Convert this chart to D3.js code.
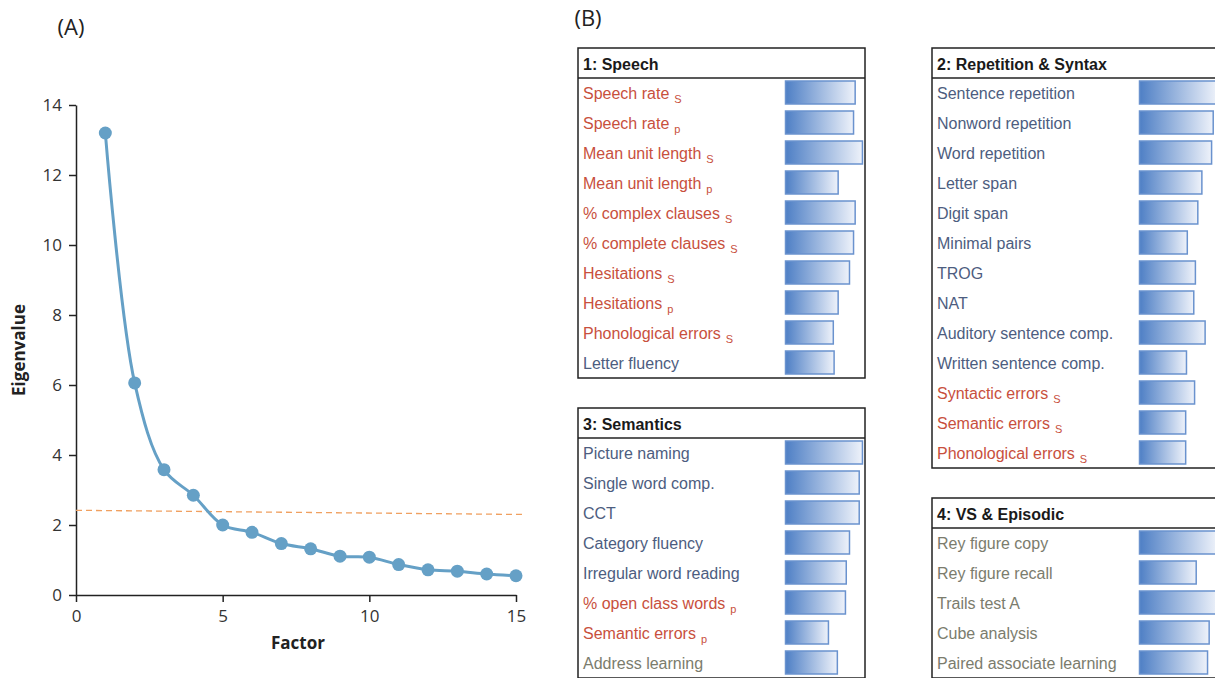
<!DOCTYPE html>
<html>
<head>
<meta charset="utf-8">
<script src="https://cdn.jsdelivr.net/npm/d3@7"></script>
<style>
  body { margin: 0; background: #fff; }
  svg { display: block; }
</style>
</head>
<body>
<div id="chart"></div>
<script>
// ---- panel A: scree plot ----
const factors = [1,2,3,4,5,6,7,8,9,10,11,12,13,14,15];
const eigenvalues = [13.2,6.06,3.58,2.85,2.0,1.79,1.47,1.32,1.11,1.08,0.87,0.72,0.68,0.6,0.55];
const cutoffX = [0, 15.3];
const cutoffY = [2.42, 2.3];
const yTicks = [0,2,4,6,8,10,12,14];
const xTicks = [0,5,10,15];

// ---- panel B: factor loadings ----
const f1Labels = ["Speech rate","Speech rate","Mean unit length","Mean unit length","% complex clauses","% complete clauses","Hesitations","Hesitations","Phonological errors","Letter fluency"];
const f1Subs = ["S","p","S","p","S","S","S","p","S",""];
const f1Kinds = ["speech","speech","speech","speech","speech","speech","speech","speech","speech","test"];
const f1Loadings = [0.86,0.84,0.95,0.65,0.86,0.84,0.79,0.65,0.59,0.60];

const f2Labels = ["Sentence repetition","Nonword repetition","Word repetition","Letter span","Digit span","Minimal pairs","TROG","NAT","Auditory sentence comp.","Written sentence comp.","Syntactic errors","Semantic errors","Phonological errors"];
const f2Subs = ["","","","","","","","","","","S","S","S"];
const f2Kinds = ["test","test","test","test","test","test","test","test","test","test","speech","speech","speech"];
const f2Loadings = [0.96,0.91,0.89,0.77,0.72,0.59,0.69,0.67,0.81,0.58,0.68,0.57,0.57];

const f3Labels = ["Picture naming","Single word comp.","CCT","Category fluency","Irregular word reading","% open class words","Semantic errors","Address learning"];
const f3Subs = ["","","","","","p","p",""];
const f3Kinds = ["test","test","test","test","test","speech","speech","other"];
const f3Loadings = [0.95,0.91,0.91,0.79,0.75,0.74,0.53,0.64];

const f4Labels = ["Rey figure copy","Rey figure recall","Trails test A","Cube analysis","Paired associate learning"];
const f4Subs = ["","","","",""];
const f4Kinds = ["other","other","other","other","other"];
const f4Loadings = [0.96,0.70,0.97,0.86,0.84];

const kindColor = {speech: "#c8503d", test: "#4d5d80", other: "#7b7c6d"};

const svg = d3.select("#chart").append("svg")
    .attr("width", 1215).attr("height", 678);

// ===== Panel A =====
const axisFont = "'Open Sans', sans-serif";
const x = d3.scaleLinear().domain([0, 15]).range([76, 516]);
const y = d3.scaleLinear().domain([0, 14]).range([595, 105]);

const gy = svg.append("g")
    .attr("transform", `translate(${x(0)},0)`)
    .call(d3.axisLeft(y).tickValues(yTicks).tickSize(7).tickSizeOuter(0).tickPadding(7));
const gx = svg.append("g")
    .attr("transform", `translate(0,${y(0)})`)
    .call(d3.axisBottom(x).tickValues(xTicks).tickSize(7).tickSizeOuter(0).tickPadding(8));
[gx, gy].forEach(g => {
    g.selectAll("path, line").attr("stroke", "#222").attr("stroke-width", 1.5);
    g.selectAll("text").attr("fill", "#333").style("font-family", axisFont).style("font-size", "17px");
});

svg.append("text")
    .attr("transform", "translate(25,350) rotate(-90)")
    .attr("text-anchor", "middle")
    .style("font-family", axisFont).style("font-size", "17px").style("font-weight", "bold")
    .attr("fill", "#222")
    .text("Eigenvalue");
svg.append("text")
    .attr("x", 298).attr("y", 649)
    .attr("text-anchor", "middle")
    .style("font-family", axisFont).style("font-size", "17px").style("font-weight", "bold")
    .attr("fill", "#222")
    .text("Factor");
svg.append("text")
    .attr("x", 71).attr("y", 35)
    .attr("text-anchor", "middle")
    .style("font-family", axisFont).style("font-size", "22px")
    .attr("fill", "#222")
    .text("(A)");

// cutoff line
svg.append("line")
    .attr("x1", x(cutoffX[0])).attr("y1", y(cutoffY[0]))
    .attr("x2", x(cutoffX[1])).attr("y2", y(cutoffY[1]))
    .attr("stroke", "#f0a060").attr("stroke-width", 1.3)
    .attr("stroke-dasharray", "6,4");

const pts = factors.map((f, i) => ({f: f, v: eigenvalues[i]}));
const line = d3.line()
    .x(d => x(d.f)).y(d => y(d.v))
    .curve(d3.curveCatmullRom.alpha(0.5));
svg.append("path")
    .datum(pts)
    .attr("d", line)
    .attr("fill", "none")
    .attr("stroke", "#65a0c6")
    .attr("stroke-width", 3);
svg.selectAll("circle.pt").data(pts).enter().append("circle")
    .attr("class", "pt")
    .attr("cx", d => x(d.f)).attr("cy", d => y(d.v))
    .attr("r", 6.5)
    .attr("fill", "#65a0c6");

// ===== Panel B =====
svg.append("text")
    .attr("x", 588).attr("y", 26)
    .attr("text-anchor", "middle")
    .style("font-family", axisFont).style("font-size", "22px")
    .attr("fill", "#222")
    .text("(B)");

const defs = svg.append("defs");
const grad = defs.append("linearGradient").attr("id", "barGrad")
    .attr("x1", "0%").attr("x2", "100%").attr("y1", "0%").attr("y2", "0%");
grad.append("stop").attr("offset", "0%").attr("stop-color", "#4e7fc5");
grad.append("stop").attr("offset", "100%").attr("stop-color", "#eef2fa");

const barScale = d3.scaleLinear().domain([0, 1]).range([0, 81]);
const labelFont = "'Liberation Sans', Arial, sans-serif";
const ROW = 30, HEAD = 30, BOXW = 287;

function drawBox(left, top, title, labels, subs, kinds, loadings) {
    const items = labels.map((l, i) => ({label: l, sub: subs[i], kind: kinds[i], load: loadings[i]}));
    const g = svg.append("g").attr("transform", `translate(${left},${top})`);
    const h = HEAD + ROW * items.length;
    g.append("rect")
        .attr("x", 0).attr("y", 0).attr("width", BOXW).attr("height", h)
        .attr("fill", "#fff").attr("stroke", "#222").attr("stroke-width", 1.5);
    g.append("line")
        .attr("x1", 0).attr("x2", BOXW).attr("y1", HEAD).attr("y2", HEAD)
        .attr("stroke", "#222").attr("stroke-width", 1.5);
    g.append("text")
        .attr("x", 5).attr("y", 22)
        .style("font-family", labelFont).style("font-size", "16px").style("font-weight", "bold")
        .attr("fill", "#1a1a1a")
        .text(title);

    const rows = g.selectAll("g.row").data(items).enter().append("g")
        .attr("class", "row")
        .attr("transform", (d, i) => `translate(0,${HEAD + ROW * i})`);
    rows.append("rect")
        .attr("x", 207.5).attr("y", 3)
        .attr("width", d => barScale(d.load))
        .attr("height", 23)
        .attr("fill", "url(#barGrad)")
        .attr("stroke", "#6a92ce").attr("stroke-width", 1.5);
    const t = rows.append("text")
        .attr("x", 5).attr("y", 21)
        .style("font-family", labelFont).style("font-size", "16px")
        .attr("fill", d => kindColor[d.kind]);
    t.append("tspan").text(d => d.label);
    t.filter(d => d.sub !== "").append("tspan")
        .attr("dx", 5).attr("dy", 4)
        .style("font-size", "11px")
        .text(d => d.sub);
}

drawBox(578, 48, "1: Speech", f1Labels, f1Subs, f1Kinds, f1Loadings);
drawBox(932, 48, "2: Repetition & Syntax", f2Labels, f2Subs, f2Kinds, f2Loadings);
drawBox(578, 408, "3: Semantics", f3Labels, f3Subs, f3Kinds, f3Loadings);
drawBox(932, 498, "4: VS & Episodic", f4Labels, f4Subs, f4Kinds, f4Loadings);
</script>
</body>
</html>
